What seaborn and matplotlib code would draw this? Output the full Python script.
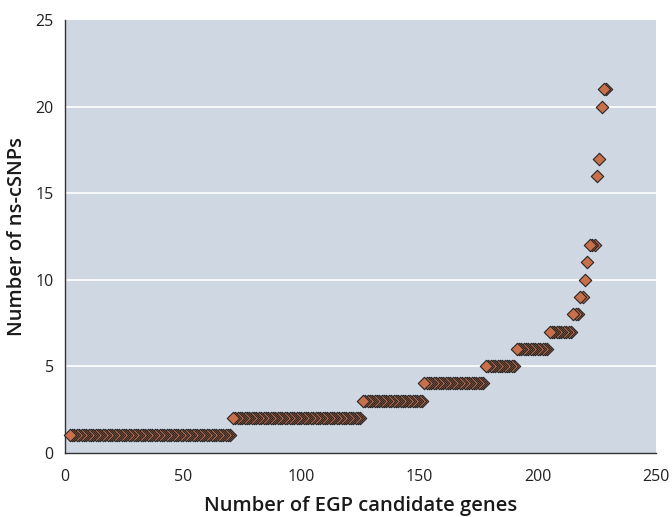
import numpy as np
import pandas as pd
import seaborn as sns
import matplotlib.pyplot as plt

# ns-cSNP count per gene and how many genes sit at each count
snp_levels = [1, 2, 3, 4, 5, 6, 7, 8, 9, 10, 11, 12, 16, 17, 20, 21]
gene_counts = [69, 55, 26, 26, 13, 14, 10, 3, 2, 1, 1, 3, 1, 1, 1, 2]
first_rank = 2

x_ticks = [0, 50, 100, 150, 200, 250]
y_ticks = [0, 5, 10, 15, 20, 25]

snps = np.repeat(snp_levels, gene_counts)
df = pd.DataFrame({"gene": np.arange(first_rank, first_rank + len(snps)), "snps": snps})
# draw the last gene first so the first marker of every run sits on top
df = df.iloc[::-1]

sns.set_theme(style="white")
plt.rcParams["font.family"] = ["Open Sans", "DejaVu Sans"]

fig = plt.figure(figsize=(6.72, 5.17), dpi=100)
ax = fig.add_axes([0.0967, 0.1244, 0.8795, 0.8366])
ax.set_facecolor("#cfd7e3")

for y in y_ticks[1:-1]:
    ax.axhline(y, color="white", lw=1.2, zorder=0)

sns.scatterplot(data=df, x="gene", y="snps", marker="D", s=40, color="#c96f4a",
                edgecolor="#262626", linewidth=0.8, ax=ax, zorder=3, clip_on=False)

ax.set_xlim(0, 250)
ax.set_ylim(0, 25)
ax.set_xticks(x_ticks)
ax.set_yticks(y_ticks)

for side in ["top", "right"]:
    ax.spines[side].set_visible(False)
for side in ["left", "bottom"]:
    ax.spines[side].set_color("#333333")
    ax.spines[side].set_linewidth(1.0)

ax.tick_params(axis="x", direction="out", length=6, width=1, color="#333333",
               labelsize=11.5, labelcolor="#222222", pad=6)
ax.tick_params(axis="y", length=0, labelsize=11.5, labelcolor="#222222", pad=8)

ax.set_xlabel("Number of EGP candidate genes", fontsize=14.5, fontweight="semibold",
              color="#1a1a1a", labelpad=8)
ax.set_ylabel("Number of ns-cSNPs", fontsize=14.5, fontweight="semibold",
              color="#1a1a1a", labelpad=6)

fig.savefig("out.png", dpi=100)
